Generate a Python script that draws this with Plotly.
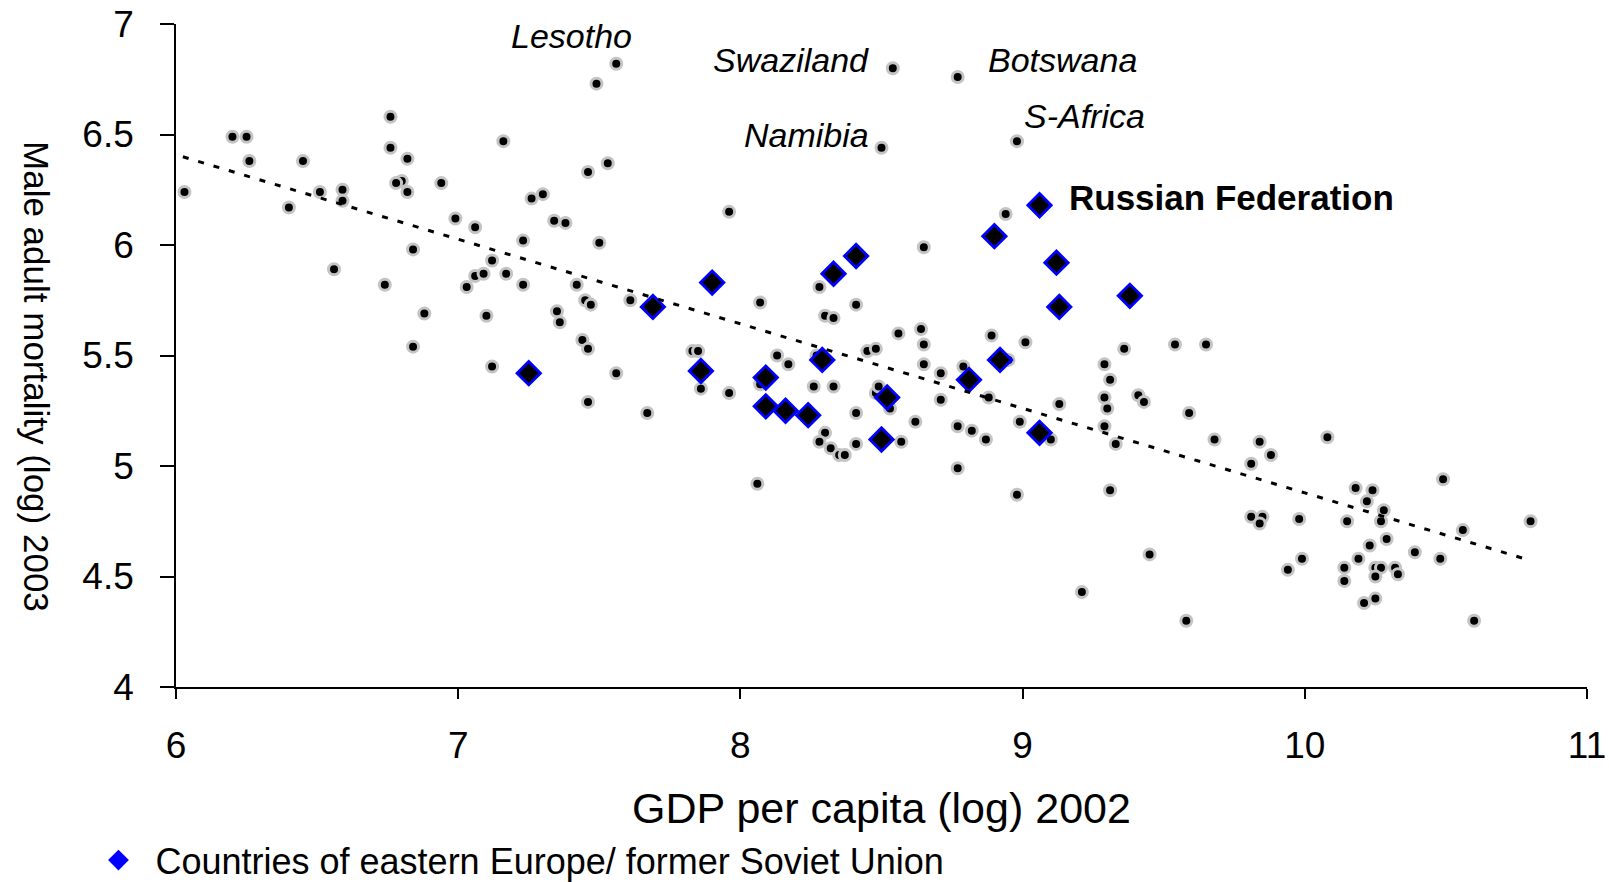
import plotly.graph_objects as go

# ---- data ----
# other countries: GDP per capita (log) 2002 vs male adult mortality (log) 2003
other_gdp = [7.56, 7.49, 8.54, 8.77, 8.50, 8.98,
             6.76, 6.20, 6.25, 7.16, 6.26, 6.45, 6.76, 6.82, 7.53, 7.46, 6.03, 6.51, 6.59, 6.80,
             6.78, 6.82, 6.94, 7.30, 7.26, 6.59, 6.40, 7.34, 7.38, 6.99, 7.06, 7.23, 7.50, 6.84,
             7.12, 6.56, 7.06, 7.09, 7.17, 6.74, 7.03, 7.23, 7.42, 7.45, 7.47, 7.61, 6.88, 7.10,
             7.35, 7.36, 7.44, 7.46, 6.84, 7.12, 7.56, 7.46, 7.67,
             7.96, 8.94, 8.65, 8.28, 8.07, 8.41, 8.30, 8.33, 8.56, 8.64, 8.65, 8.89, 9.01, 9.36,
             7.83, 7.85, 8.45, 8.48, 8.13, 7.86, 7.96, 8.07, 8.17, 8.27, 8.65, 8.26, 8.33, 8.41,
             8.48, 8.49, 8.53, 8.71, 8.79, 8.71, 8.95, 8.88, 8.62, 8.57, 8.30, 8.28, 8.32, 8.35,
             8.37, 8.41, 8.77, 8.82, 8.87, 8.77, 8.99, 9.10, 9.13, 9.29, 9.31, 9.29, 9.30, 9.29,
             9.33, 8.06, 8.98, 9.31, 9.21,
             9.54, 9.65, 9.41, 9.43, 9.59, 9.68, 9.84, 9.88, 9.81, 10.08, 9.45, 9.58, 9.81, 9.85,
             9.84, 9.98, 9.99, 9.94, 10.18, 10.24, 10.22, 10.28, 10.15, 10.27, 10.29, 10.23,
             10.19, 10.14, 10.25, 10.27, 10.32, 10.33, 10.25, 10.14, 10.21, 10.25, 10.39, 10.49,
             10.56, 10.48, 10.80, 10.60]
other_mort = [6.82, 6.73, 6.80, 6.76, 6.44, 6.47,
              6.58, 6.49, 6.49, 6.47, 6.38, 6.38, 6.44, 6.39, 6.37, 6.33, 6.24, 6.24, 6.25, 6.29,
              6.28, 6.24, 6.28, 6.23, 6.21, 6.20, 6.17, 6.11, 6.10, 6.12, 6.08, 6.02, 6.01, 5.98,
              5.93, 5.89, 5.86, 5.87, 5.87, 5.82, 5.81, 5.82, 5.82, 5.75, 5.73, 5.75, 5.69, 5.68,
              5.70, 5.65, 5.57, 5.53, 5.54, 5.45, 5.42, 5.29, 5.24,
              6.15, 6.14, 5.99, 5.81, 5.74, 5.73, 5.68, 5.67, 5.60, 5.62, 5.55, 5.59, 5.56, 5.53,
              5.52, 5.52, 5.52, 5.53, 5.50, 5.35, 5.33, 5.37, 5.46, 5.50, 5.46, 5.36, 5.36, 5.24,
              5.33, 5.36, 5.26, 5.42, 5.45, 5.30, 5.48, 5.31, 5.20, 5.11, 5.15, 5.11, 5.08, 5.05,
              5.05, 5.10, 5.18, 5.16, 5.12, 4.99, 5.20, 5.12, 5.28, 5.46, 5.39, 5.31, 5.26, 5.18,
              5.10, 4.92, 4.87, 4.89, 4.43,
              5.55, 5.55, 5.32, 5.29, 5.24, 5.12, 5.11, 5.05, 5.01, 5.13, 4.60, 4.30, 4.77, 4.77,
              4.74, 4.76, 4.58, 4.53, 4.90, 4.89, 4.84, 4.80, 4.75, 4.75, 4.67, 4.64,
              4.58, 4.54, 4.54, 4.54, 4.54, 4.51, 4.50, 4.48, 4.38, 4.40, 4.61, 4.94,
              4.71, 4.58, 4.75, 4.30]

# countries of eastern Europe / former Soviet Union
eeu_gdp = [7.25, 7.69, 7.90, 7.86, 8.09, 8.09, 8.16, 8.24, 8.29, 8.33, 8.41,
           8.52, 8.50, 8.81, 8.90, 8.92, 9.06, 9.12, 9.13, 9.38, 9.06]
eeu_mort = [5.42, 5.72, 5.83, 5.43, 5.40, 5.27, 5.25, 5.23, 5.48, 5.87, 5.95,
            5.31, 5.12, 5.39, 6.04, 5.48, 6.18, 5.92, 5.72, 5.77, 5.15]

# dotted linear trend (end points)
trend_gdp = [5.97, 10.78]
trend_mort = [6.42, 4.58]

# labelled countries
label_names = ["Lesotho", "Swaziland", "Botswana", "Namibia", "S-Africa"]
label_gdp = [7.40, 8.18, 9.14, 8.235, 9.22]
label_mort = [6.946, 6.839, 6.839, 6.50, 6.584]

x_ticks = [6, 7, 8, 9, 10, 11]
y_ticks = [4, 4.5, 5, 5.5, 6, 6.5, 7]

FONT = "Liberation Sans, Arial, sans-serif"

fig = go.Figure()

fig.add_trace(go.Scatter(
    x=other_gdp, y=other_mort, mode="markers", showlegend=False,
    marker=dict(symbol="circle", size=11, color="black",
                line=dict(color="#c4c4c4", width=3)),
    hoverinfo="x+y"))

fig.add_trace(go.Scatter(
    x=eeu_gdp, y=eeu_mort, mode="markers", showlegend=False,
    marker=dict(symbol="diamond", size=18, color="black",
                line=dict(color="#0000ff", width=2.8)),
    hoverinfo="x+y"))

fig.add_trace(go.Scatter(
    x=trend_gdp, y=trend_mort, mode="lines", showlegend=False,
    line=dict(color="black", width=3, dash="6px,10px"),
    hoverinfo="skip"))

# legend entry
fig.add_trace(go.Scatter(
    x=[None], y=[None], mode="markers",
    name="Countries of eastern Europe/ former Soviet Union",
    marker=dict(symbol="diamond", size=19, color="#0000ff")))

annotations = []
for name, gx, my in zip(label_names, label_gdp, label_mort):
    annotations.append(dict(
        x=gx, y=my, xref="x", yref="y", text=name, showarrow=False,
        xanchor="center", yanchor="middle",
        font=dict(family=FONT, size=34, color="black", style="italic")))

annotations.append(dict(
    x=9.158, y=6.217, xref="x", yref="y", text="<b>Russian Federation</b>",
    showarrow=False, xanchor="left", yanchor="middle",
    font=dict(family=FONT, size=35, color="black")))

annotations.append(dict(
    x=-0.0985, y=0.469, xref="paper", yref="paper",
    text="Male adult mortality (log) 2003", showarrow=False,
    textangle=90, xanchor="center", yanchor="middle",
    font=dict(family=FONT, size=35, color="black")))

fig.update_layout(
    width=1609, height=882,
    margin=dict(l=176, r=22, t=24, b=195, autoexpand=False),
    paper_bgcolor="white", plot_bgcolor="white",
    font=dict(family=FONT, color="black"),
    annotations=annotations,
    showlegend=True,
    legend=dict(x=-0.067, y=-0.216, xanchor="left", yanchor="top",
                font=dict(family=FONT, size=36, color="black"),
                bgcolor="rgba(0,0,0,0)", itemwidth=64),
    xaxis=dict(range=[6, 11], tickvals=x_ticks, ticktext=[str(v) for v in x_ticks],
               showgrid=False, zeroline=False, showline=True, linecolor="black",
               linewidth=1.6, ticks="outside", ticklen=10, tickwidth=1.6,
               tickcolor="black", ticklabelstandoff=15, ticklabeloverflow="allow",
               tickfont=dict(family=FONT, size=37, color="black"),
               title=dict(text="GDP per capita (log) 2002", standoff=28,
                          font=dict(family=FONT, size=43, color="black"))),
    yaxis=dict(range=[4, 7], tickvals=y_ticks, ticktext=[f"{v:g}" for v in y_ticks],
               showgrid=False, zeroline=False, showline=True, linecolor="black",
               linewidth=1.6, ticks="outside", ticklen=14, tickwidth=1.6,
               tickcolor="black", ticklabelstandoff=19, ticklabeloverflow="allow",
               tickfont=dict(family=FONT, size=37, color="black")),
)

fig.write_html("out.html", config={"displayModeBar": False},
               post_script="document.body.style.margin='0';document.body.style.overflow='hidden';")
